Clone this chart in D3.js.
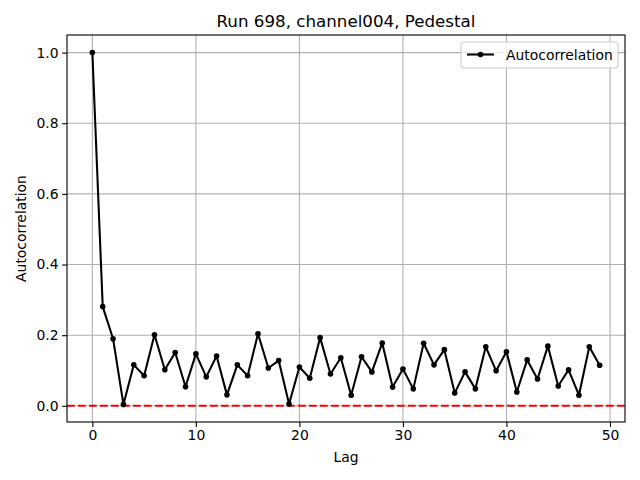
<!DOCTYPE html>
<html><head><meta charset="utf-8">
<script src="https://cdn.jsdelivr.net/npm/d3@7"></script>
<style>body{margin:0;background:#fff}svg{display:block}text{font-family:"DejaVu Sans",sans-serif}</style>
</head><body>
<svg id="c" width="640" height="480"></svg>
<script>
const lags = d3.range(0, 50);
const autocorr = [1.0,0.281,0.19,0.004,0.116,0.085,0.201,0.102,0.151,0.054,
0.147,0.082,0.141,0.031,0.116,0.085,0.204,0.107,0.128,0.005,
0.110,0.078,0.193,0.090,0.136,0.030,0.139,0.096,0.178,0.053,
0.104,0.048,0.177,0.116,0.159,0.036,0.096,0.048,0.167,0.099,
0.153,0.039,0.130,0.076,0.169,0.056,0.102,0.030,0.167,0.115];
const xTicks = [0,10,20,30,40,50];
const yTicks = [0.0,0.2,0.4,0.6,0.8,1.0];
const title = "Run 698, channel004, Pedestal";
const xLabel = "Lag", yLabel = "Autocorrelation", seriesName = "Autocorrelation";

const svg = d3.select("#c");
const L=67, R=625, T=35, B=422;
const ymin = d3.min(autocorr), ymax = d3.max(autocorr);
const x = d3.scaleLinear().domain([-2.45, 51.45]).range([L, R]);
const yr = ymax - ymin;
const y = d3.scaleLinear().domain([ymin - 0.05*yr, ymax + 0.05*yr]).range([B, T]);

// grid
const g = svg.append("g");
g.selectAll(".gx").data(xTicks).join("line")
  .attr("x1", d=>x(d)).attr("x2", d=>x(d)).attr("y1", T).attr("y2", B)
  .attr("stroke", "#b0b0b0").attr("stroke-width", 1.1);
g.selectAll(".gy").data(yTicks).join("line")
  .attr("x1", L).attr("x2", R).attr("y1", d=>y(d)).attr("y2", d=>y(d))
  .attr("stroke", "#b0b0b0").attr("stroke-width", 1.1);

// red dashed zero line
svg.append("line").attr("x1", L).attr("x2", R).attr("y1", y(0)).attr("y2", y(0))
  .attr("stroke", "#ff0000").attr("stroke-width", 2.08).attr("stroke-dasharray", "7.7,3.3");

// series
const clip = svg.append("clipPath").attr("id","cl").append("rect").attr("x",L).attr("y",T).attr("width",R-L).attr("height",B-T);
const line = d3.line().x((d,i)=>x(lags[i])).y(d=>y(d));
svg.append("path").datum(autocorr).attr("d", line).attr("fill","none")
  .attr("stroke","#000").attr("stroke-width",2.08).attr("stroke-linejoin","round");
svg.selectAll(".pt").data(autocorr).join("circle")
  .attr("cx",(d,i)=>x(lags[i])).attr("cy",d=>y(d)).attr("r",2.8).attr("fill","#000");

// axes
const xa = svg.append("g").attr("transform", `translate(0,${B})`)
  .call(d3.axisBottom(x).tickValues(xTicks).tickFormat(d3.format("d")).tickSize(4.9).tickPadding(3.5));
const ya = svg.append("g").attr("transform", `translate(${L},0)`)
  .call(d3.axisLeft(y).tickValues(yTicks).tickFormat(d3.format(".1f")).tickSize(4.9).tickPadding(3.5));
[xa, ya].forEach(a=>{
  a.select(".domain").remove();
  a.selectAll("line").attr("stroke","#000").attr("stroke-width",1.1);
  a.selectAll("text").attr("font-size","13.9px").attr("fill","#000").attr("font-family","DejaVu Sans");
});
svg.append("rect").attr("x",L).attr("y",T).attr("width",R-L).attr("height",B-T)
  .attr("fill","none").attr("stroke","#000").attr("stroke-width",1.1);

// labels
svg.append("text").attr("x",(L+R)/2).attr("y",27).attr("text-anchor","middle")
  .attr("font-size","16.7px").text(title);
svg.append("text").attr("x",(L+R)/2).attr("y",462).attr("text-anchor","middle")
  .attr("font-size","13.9px").text(xLabel);
svg.append("text").attr("transform",`translate(26,${(T+B)/2}) rotate(-90)`).attr("text-anchor","middle")
  .attr("font-size","13.9px").text(yLabel);

// legend
const lg = svg.append("g");
lg.append("rect").attr("x",461).attr("y",42).attr("width",157).attr("height",26).attr("rx",3)
  .attr("fill","#fff").attr("fill-opacity",0.8).attr("stroke","#cccccc").attr("stroke-width",1.1);
lg.append("line").attr("x1",467).attr("x2",494).attr("y1",54.5).attr("y2",54.5).attr("stroke","#000").attr("stroke-width",2.08);
lg.append("circle").attr("cx",480.5).attr("cy",54.5).attr("r",2.8).attr("fill","#000");
lg.append("text").attr("x",506).attr("y",59.5).attr("font-size","13.9px").text(seriesName);
</script>
</body></html>
